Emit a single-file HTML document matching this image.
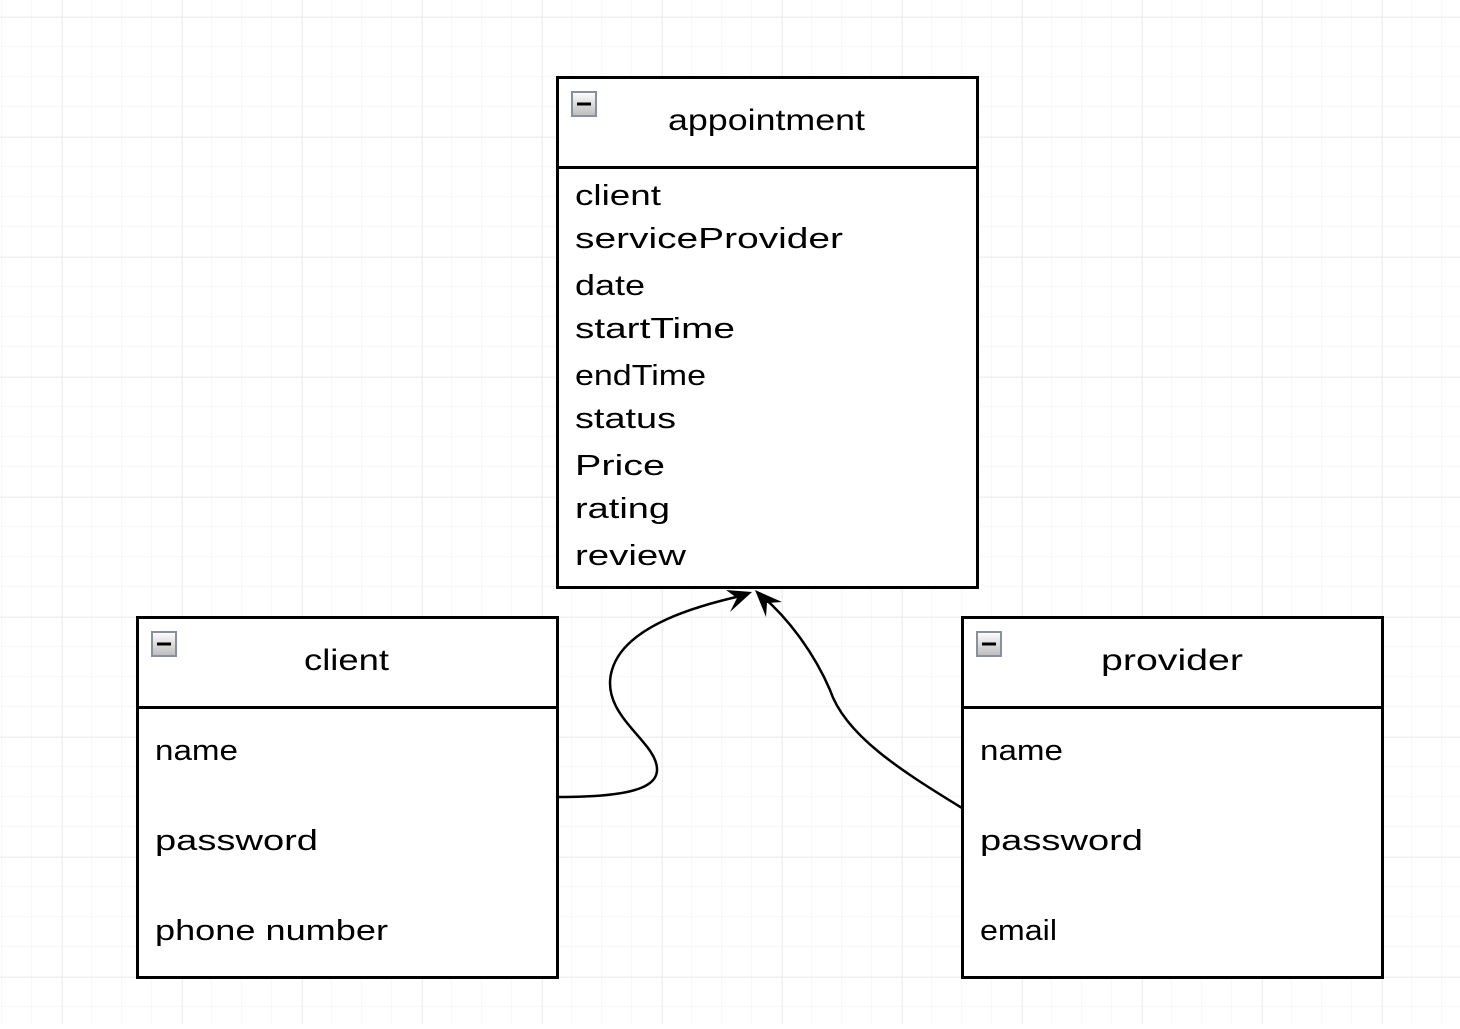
<!DOCTYPE html>
<html><head><style>
body{margin:0;width:1460px;height:1024px;overflow:hidden;background:#fff;font-family:"Liberation Sans",sans-serif;}
</style></head><body>
<svg width="1460" height="1024" xmlns="http://www.w3.org/2000/svg">
<defs>
<pattern id="g" x="2" y="17" width="30" height="30" patternUnits="userSpaceOnUse"><path d="M30 0V30M0 30H30" stroke="#f0f0f0" stroke-width="1" fill="none"/></pattern>
<pattern id="G" x="62" y="17" width="120" height="120" patternUnits="userSpaceOnUse"><path d="M0 0V120M0 0H120" stroke="#e2e2e2" stroke-width="1" fill="none"/></pattern>
<linearGradient id="b" x1="0" y1="0" x2="0" y2="1"><stop offset="0" stop-color="#fff"/><stop offset="1" stop-color="#bbb"/></linearGradient>
</defs>
<rect width="1460" height="1024" fill="url(#g)"/>
<rect width="1460" height="1024" fill="url(#G)"/>
<g fill="#fff" stroke="#000" stroke-width="3">
<rect x="557.5" y="77.5" width="420" height="510"/><line x1="557" y1="167.5" x2="977" y2="167.5"/>
<rect x="137.5" y="617.5" width="420" height="360"/><line x1="137" y1="707.5" x2="557" y2="707.5"/>
<rect x="962.5" y="617.5" width="420" height="360"/><line x1="962" y1="707.5" x2="1382" y2="707.5"/>
</g>
<g stroke="#8890a0" stroke-width="2" fill="url(#b)">
<rect x="572" y="92" width="24" height="24"/><rect x="152" y="632" width="24" height="24"/><rect x="977" y="632" width="24" height="24"/>
</g>
<g stroke="#000" stroke-width="3"><line x1="577" y1="104" x2="591" y2="104"/><line x1="157" y1="644" x2="171" y2="644"/><line x1="982" y1="644" x2="996" y2="644"/></g>
<g font-size="30" fill="#000" font-family="Liberation Sans, sans-serif" lengthAdjust="spacingAndGlyphs">
<text x="668" y="130" textLength="197" lengthAdjust="spacingAndGlyphs">appointment</text>
<text x="304" y="670" textLength="85" lengthAdjust="spacingAndGlyphs">client</text>
<text x="1101" y="670" textLength="142" lengthAdjust="spacingAndGlyphs">provider</text>
<g font-size="29">
<text x="575" y="205" textLength="86" lengthAdjust="spacingAndGlyphs">client</text>
<text x="575" y="248" textLength="268" lengthAdjust="spacingAndGlyphs">serviceProvider</text>
<text x="575" y="295" textLength="70" lengthAdjust="spacingAndGlyphs">date</text>
<text x="575" y="338" textLength="160" lengthAdjust="spacingAndGlyphs">startTime</text>
<text x="575" y="385" textLength="131" lengthAdjust="spacingAndGlyphs">endTime</text>
<text x="575" y="428" textLength="101" lengthAdjust="spacingAndGlyphs">status</text>
<text x="575" y="475" textLength="90" lengthAdjust="spacingAndGlyphs">Price</text>
<text x="575" y="518" textLength="95" lengthAdjust="spacingAndGlyphs">rating</text>
<text x="575" y="565" textLength="111" lengthAdjust="spacingAndGlyphs">review</text>
<text x="155" y="760" textLength="83" lengthAdjust="spacingAndGlyphs">name</text>
<text x="155" y="850" textLength="163" lengthAdjust="spacingAndGlyphs">password</text>
<text x="155" y="940" textLength="233" lengthAdjust="spacingAndGlyphs">phone number</text>
<text x="980" y="760" textLength="83" lengthAdjust="spacingAndGlyphs">name</text>
<text x="980" y="850" textLength="163" lengthAdjust="spacingAndGlyphs">password</text>
<text x="980" y="940" textLength="77" lengthAdjust="spacingAndGlyphs">email</text>
</g></g>
<g fill="none" stroke="#000" stroke-width="2.5">
<path d="M559 797 C640 797 665 785 655 760 C645 735 600 710 612 670 C625 625 700 605 745 595"/>
<path d="M962 808 C900 770 845 735 830 690 C815 655 790 620 762 596"/>
</g>
<path d="M752 592 L730 612 L737 598 L726 590 Z" fill="#000"/>
<path d="M755 590 L782 602 L767 603 L766 617 Z" fill="#000"/>
</svg>
</body></html>
